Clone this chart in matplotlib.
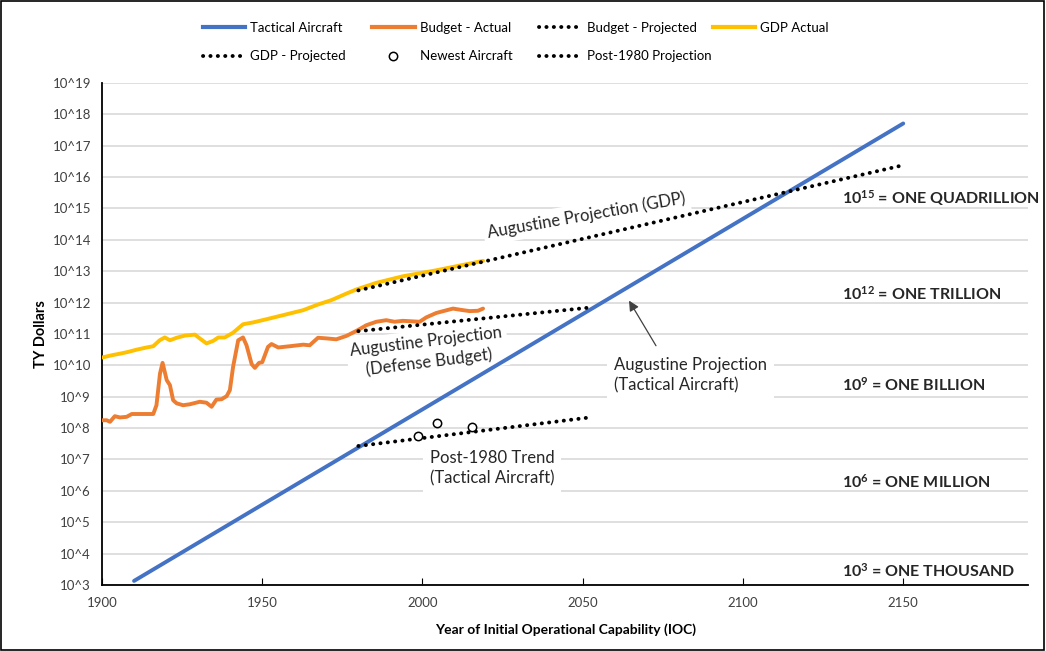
import matplotlib
matplotlib.use("Agg")
import matplotlib.pyplot as plt
from matplotlib.lines import Line2D
from matplotlib.patches import Rectangle
import numpy as np

plt.rcParams['font.family'] = ['Lato', 'DejaVu Sans']
plt.rcParams['mathtext.fontset'] = 'custom'
plt.rcParams['mathtext.rm'] = 'Lato'
plt.rcParams['mathtext.bf'] = 'Lato:bold'

# --- data (values in TY dollars) ---
tac_years = [1910, 2150]
tac_log = [3.13, 17.71]

budget_years = [1900, 1901.5, 1902.5, 1904, 1905.6, 1907.7, 1909.3, 1916, 1917, 1918.1,
                1918.9, 1920.2, 1921.2, 1922.2, 1923.3, 1925.3, 1927.4, 1930.5, 1932.6,
                1934.2, 1935.7, 1937.3, 1938.9, 1939.9, 1940.9, 1942.5, 1944, 1945.1,
                1946.7, 1947.7, 1949, 1950, 1951.8, 1952.9, 1955, 1958.6, 1962.8, 1964.8,
                1967.4, 1970, 1973.1, 1976.3, 1979.4, 1982.5, 1985.6, 1988.7, 1991.3,
                1993.9, 1999.1, 2001.2, 2004.3, 2009.5, 2012.6, 2014.7, 2017.3, 2018.9]
budget_log = [8.25, 8.25, 8.20, 8.38, 8.34, 8.36, 8.45, 8.45, 8.73, 9.74,
              10.08, 9.53, 9.37, 8.89, 8.79, 8.73, 8.76, 8.84, 8.81,
              8.68, 8.91, 8.92, 9.02, 9.21, 9.95, 10.80, 10.89, 10.64,
              10.04, 9.92, 10.08, 10.10, 10.59, 10.68, 10.57, 10.61, 10.66, 10.64,
              10.88, 10.86, 10.83, 10.94, 11.10, 11.28, 11.39, 11.44, 11.39,
              11.42, 11.39, 11.53, 11.67, 11.81, 11.76, 11.73, 11.74, 11.81]

gdp_years = [1900, 1903.4, 1906, 1908.2, 1910.8, 1913.9, 1916, 1918, 1919.6, 1921.2,
             1923.3, 1925.9, 1929, 1930.5, 1932.6, 1934.7, 1936.3, 1938.3, 1940.9,
             1944, 1947.2, 1951.3, 1956.5, 1962.8, 1967.4, 1971.6, 1976.3, 1979.4,
             1985.6, 1993.9, 2004.3, 2010.6, 2018.9]
gdp_log = [10.25, 10.33, 10.38, 10.43, 10.50, 10.57, 10.61, 10.80, 10.89, 10.80,
           10.88, 10.95, 10.98, 10.86, 10.70, 10.78, 10.89, 10.89, 11.04,
           11.31, 11.37, 11.47, 11.60, 11.76, 11.94, 12.08, 12.29, 12.42,
           12.63, 12.84, 13.03, 13.16, 13.33]

budget_proj_years = [1980, 2053]
budget_proj_log = [11.09, 11.85]

gdp_proj_years = [1980, 2150]
gdp_proj_log = [12.39, 16.38]

post1980_years = [1980, 2053]
post1980_log = [7.43, 8.35]

newest_years = [1998.5, 2004.4, 2015.3]
newest_log = [7.75, 8.16, 8.03]

ytick_exps = list(range(3, 20))
xticks = [1900, 1950, 2000, 2050, 2100, 2150]

scale_labels = [(15.32, r"$\mathbf{10^{15}}$ = ONE QUADRILLION"),
                (12.27, r"$\mathbf{10^{12}}$ = ONE TRILLION"),
                (9.37, r"$\mathbf{10^{9}}$ = ONE BILLION"),
                (6.28, r"$\mathbf{10^{6}}$ = ONE MILLION"),
                (3.45, r"$\mathbf{10^{3}}$ = ONE THOUSAND")]

p10 = lambda v: np.power(10.0, v)

fig = plt.figure(figsize=(10.46, 6.51), dpi=100)
ax = fig.add_axes([0.0975, 0.1014, 0.8855, 0.7711])

blue = '#4472c4'
orange = '#ed7d31'
gold = '#ffc000'
dots = dict(color='black', lw=2.8, linestyle=(0, (0.05, 1.85)), dash_capstyle='round')

ax.plot(gdp_years, p10(gdp_log), color=gold, lw=2.8, zorder=3, solid_capstyle='round')
ax.plot(budget_years, p10(budget_log), color=orange, lw=2.8, zorder=3, solid_capstyle='round')
ax.plot(tac_years, p10(tac_log), color=blue, lw=2.8, zorder=4, solid_capstyle='round')
ax.plot(budget_proj_years, p10(budget_proj_log), zorder=5, **dots)
ax.plot(gdp_proj_years, p10(gdp_proj_log), zorder=5, **dots)
ax.plot(post1980_years, p10(post1980_log), zorder=5, **dots)
ax.plot(newest_years, p10(newest_log), 'o', ms=6, mfc='white', mec='black', mew=1.1, zorder=6)

ax.set_yscale('log')
ax.set_ylim(1e3, 1e19)
ax.set_xlim(1900, 2189)
ax.set_yticks([p10(e) for e in ytick_exps])
ax.set_yticklabels([f"10^{e}" for e in ytick_exps])
ax.yaxis.set_minor_locator(matplotlib.ticker.NullLocator())
ax.set_xticks(xticks)
ax.tick_params(axis='y', length=0, labelsize=9.5, labelcolor='#404040', pad=8)
ax.tick_params(axis='x', length=5, direction='in', labelsize=9.5, labelcolor='#404040', pad=9)
ax.grid(axis='y', color='#d9d9d9', lw=1.2, zorder=0)
ax.set_axisbelow(True)
for s in ['top', 'right']:
    ax.spines[s].set_visible(False)
for s in ['left', 'bottom']:
    ax.spines[s].set_color('black')
    ax.spines[s].set_linewidth(1.3)

ax.set_ylabel('TY Dollars', fontsize=10.5, fontweight='bold', labelpad=3)
ax.set_xlabel('Year of Initial Operational Capability (IOC)', fontsize=10, fontweight='bold', labelpad=10)

box = dict(facecolor='white', edgecolor='none', pad=3)
ax.text(2051.2, p10(14.78), 'Augustine Projection (GDP)', fontsize=12, rotation=10,
        ha='center', va='center', bbox=box, zorder=2, color='#262626')
ax.text(2001.6, p10(10.42), 'Augustine Projection\n(Defense Budget)', fontsize=12, rotation=7,
        ha='center', va='center', multialignment='center', bbox=box, zorder=2, color='#262626',
        linespacing=1.3)
ax.text(2059.9, p10(9.69), 'Augustine Projection\n(Tactical Aircraft)', fontsize=12,
        ha='left', va='center', bbox=dict(facecolor='white', edgecolor='none', pad=5), zorder=2,
        color='#262626', linespacing=1.3)
ax.text(2002.2, p10(6.73), 'Post-1980 Trend\n(Tactical Aircraft)', fontsize=12,
        ha='left', va='center', bbox=dict(facecolor='white', edgecolor='none', pad=5), zorder=2,
        color='#262626', linespacing=1.3)
ax.annotate('', xy=(2064, p10(12.14)), xytext=(2073.3, p10(10.55)),
            arrowprops=dict(arrowstyle='-|>', color='#404040', lw=0.9, mutation_scale=15),
            zorder=7)

for lv, txt in scale_labels:
    ax.text(2131, p10(lv), txt, fontsize=11.5, fontweight='bold', ha='left', va='center',
            color='#262626', clip_on=False)

# legend: first three columns (column-major order) plus a separate fourth column
h_tac = Line2D([], [], color=blue, lw=3)
h_bud = Line2D([], [], color=orange, lw=3)
h_bproj = Line2D([], [], **dots)
h_gdp = Line2D([], [], color=gold, lw=3)
h_gproj = Line2D([], [], **dots)
h_new = Line2D([], [], ls='none', marker='o', ms=6, mfc='white', mec='black', mew=1.1)
h_post = Line2D([], [], **dots)
handles = [h_tac, h_gproj, h_bud, h_new, h_bproj, h_post]
labels = ['Tactical Aircraft', 'GDP - Projected', 'Budget - Actual', 'Newest Aircraft',
          'Budget - Projected', 'Post-1980 Projection']
leg_kw = dict(frameon=False, fontsize=9.5, handlelength=3.2, columnspacing=2.0,
              labelspacing=1.25, handletextpad=0.4)
leg1 = fig.legend(handles, labels, loc='upper left', bbox_to_anchor=(0.1826, 0.985), ncol=3,
                  **leg_kw)
fig.legend([h_gdp], ['GDP Actual'], loc='upper left', bbox_to_anchor=(0.670, 0.985), **leg_kw)

fig.patches.append(Rectangle((0.001, 0.001), 0.997, 0.997, transform=fig.transFigure,
                             fill=False, edgecolor='black', lw=1.2))

fig.savefig('out.png', dpi=100)
